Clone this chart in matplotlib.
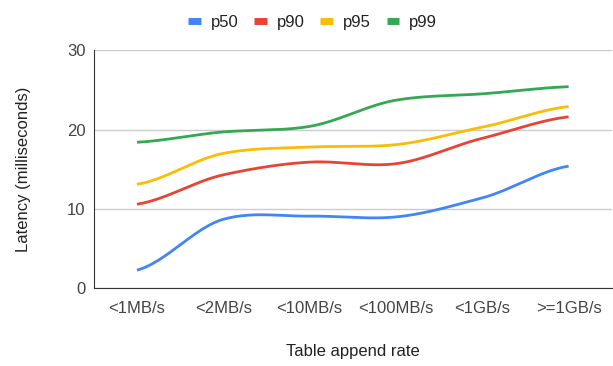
import matplotlib.pyplot as plt
import numpy as np

plt.rcParams['font.family'] = ['Liberation Sans', 'DejaVu Sans']

categories = ['<1MB/s', '<2MB/s', '<10MB/s', '<100MB/s', '<1GB/s', '>=1GB/s']
p50 = [2.3, 8.7, 9.1, 9.0, 11.4, 15.4]
p90 = [10.6, 14.3, 15.9, 15.7, 18.9, 21.6]
p95 = [13.1, 17.0, 17.8, 18.1, 20.3, 22.9]
p99 = [18.4, 19.7, 20.4, 23.7, 24.5, 25.4]

series = [('p50', p50, '#4285F4'), ('p90', p90, '#EA4335'),
          ('p95', p95, '#FBBC04'), ('p99', p99, '#34A853')]


def smooth(y, n=30):
    # Catmull-Rom curve through the points, for drawing only
    y = np.asarray(y, dtype=float)
    x = np.arange(len(y), dtype=float)
    xs, ys = [], []
    for i in range(len(y) - 1):
        y0 = y[i - 1] if i > 0 else y[i]
        y3 = y[i + 2] if i + 2 < len(y) else y[i + 1]
        m1 = (y[i + 1] - y0) / 2 * 0.9
        m2 = (y3 - y[i]) / 2 * 0.9
        t = np.linspace(0, 1, n)
        h00 = 2 * t**3 - 3 * t**2 + 1
        h10 = t**3 - 2 * t**2 + t
        h01 = -2 * t**3 + 3 * t**2
        h11 = t**3 - t**2
        xs.append(x[i] + t)
        ys.append(h00 * y[i] + h10 * m1 + h01 * y[i + 1] + h11 * m2)
    return np.concatenate(xs), np.concatenate(ys)


fig = plt.figure(figsize=(6.13, 3.66), dpi=100)
ax = fig.add_axes([0.153, 0.212, 0.845, 0.651])

for name, vals, color in series:
    xs, ys = smooth(vals)
    ax.plot(xs, ys, color=color, lw=2, label=name, solid_capstyle='butt')

ax.set_xlim(-0.5, 5.5)
ax.set_ylim(0, 30)
ax.set_yticks([0, 10, 20, 30])
ax.set_xticks(range(len(categories)))
ax.set_xticklabels(categories)
ax.grid(axis='y', color='#cccccc', lw=1)
ax.set_axisbelow(True)
for s in ['top', 'right']:
    ax.spines[s].set_visible(False)
ax.spines['left'].set_color('#333333')
ax.spines['bottom'].set_color('#333333')
ax.tick_params(length=0, labelsize=12, colors='#444444', pad=9)
ax.tick_params(axis='y', pad=6)
ax.set_ylabel('Latency (milliseconds)', fontsize=12, color='#222222', labelpad=26)
ax.set_xlabel('Table append rate', fontsize=12, color='#222222', labelpad=20)

leg = fig.legend(loc='upper center', bbox_to_anchor=(0.51, 1.0), ncol=4,
                 frameon=False, fontsize=12, handlelength=0.75, handletextpad=0.6,
                 columnspacing=0.95)
for line in leg.get_lines():
    line.set_linewidth(5)
for t in leg.get_texts():
    t.set_color('#222222')

plt.savefig('out.png', dpi=100)
